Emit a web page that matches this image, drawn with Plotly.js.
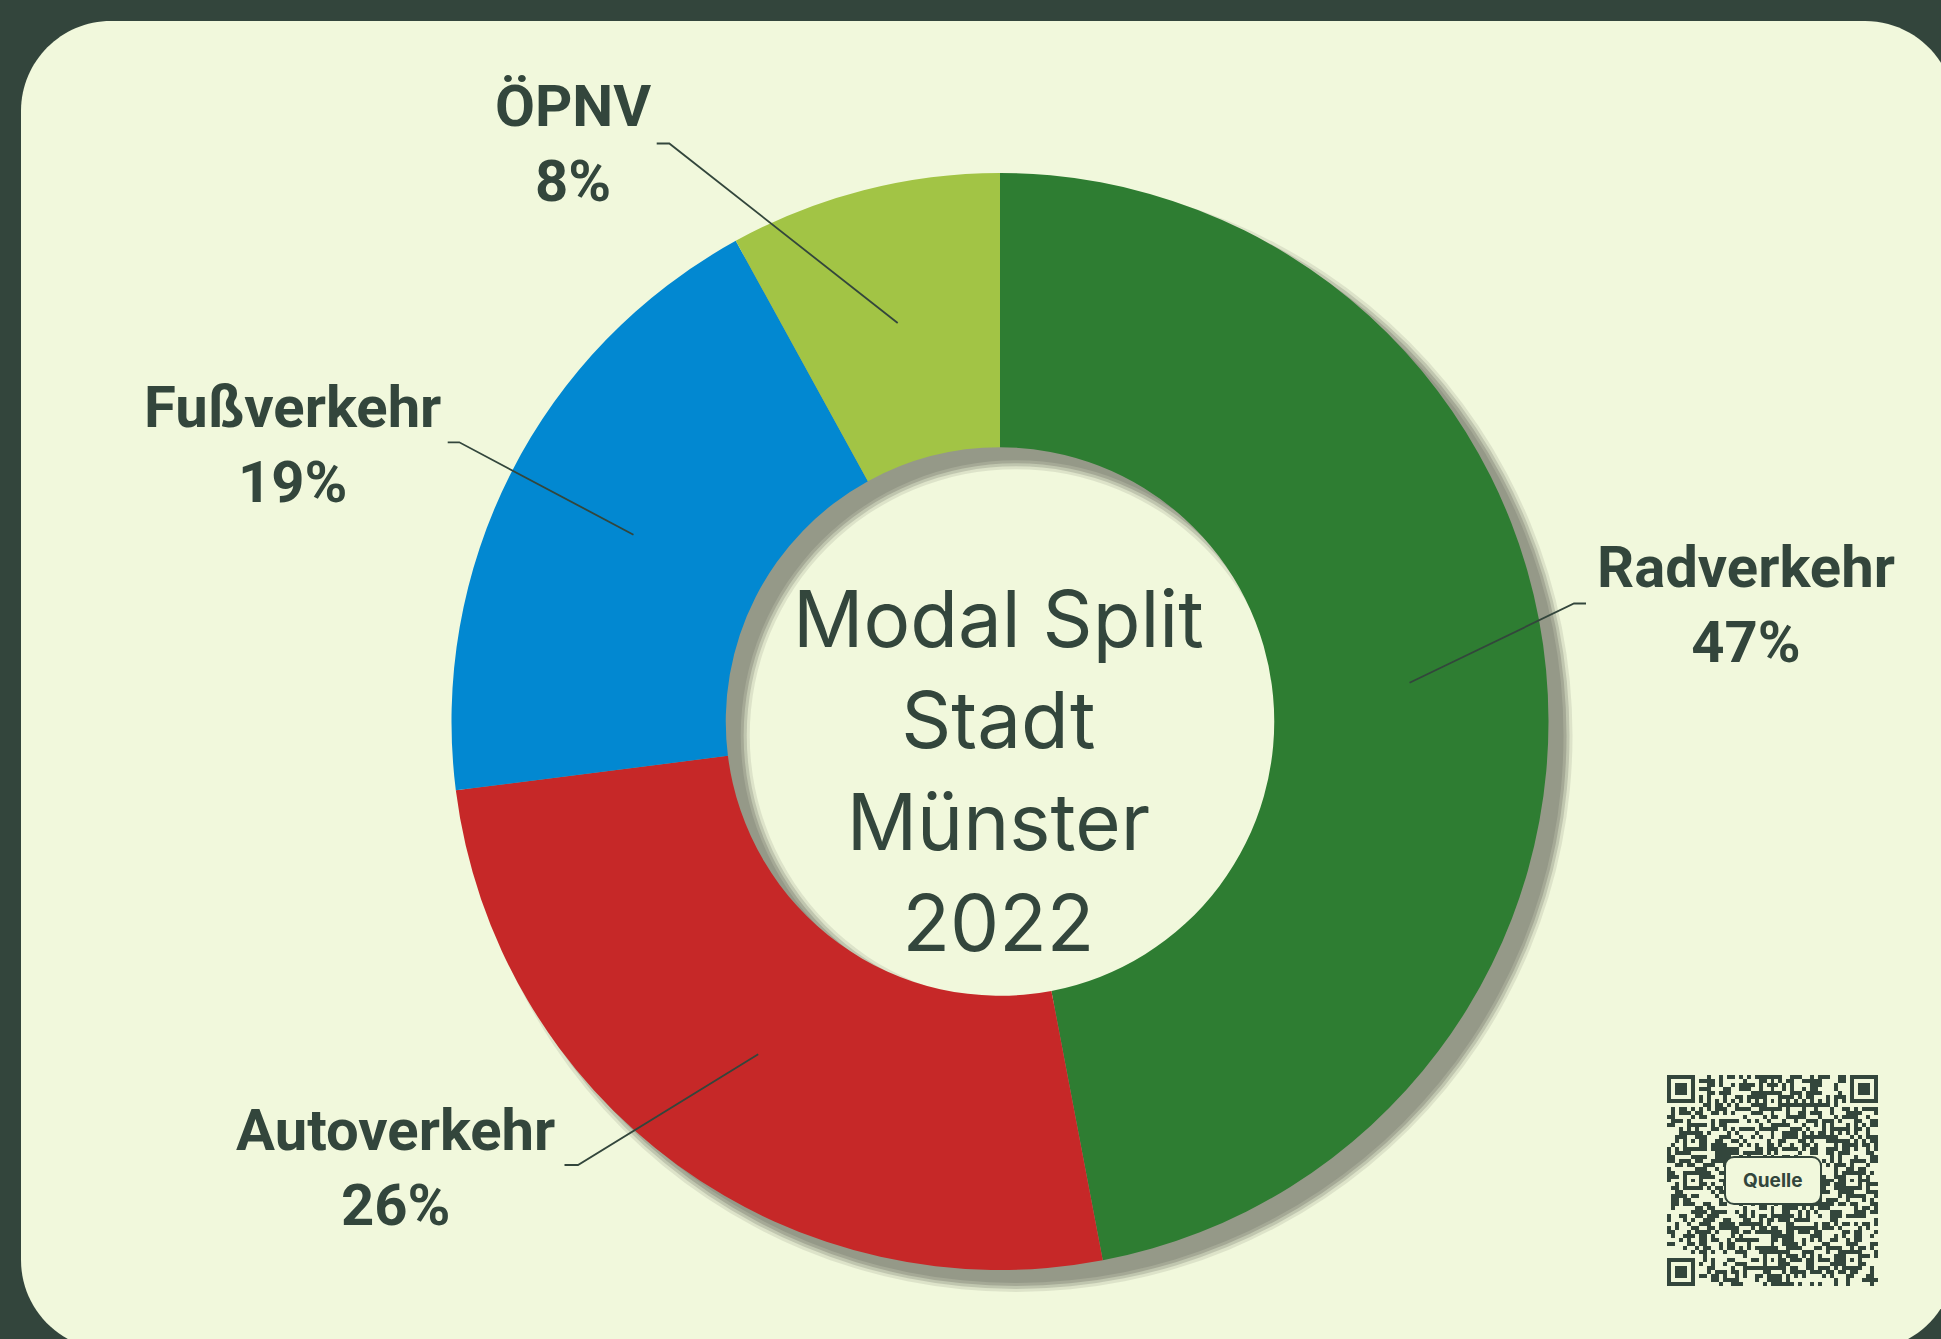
<!DOCTYPE html>
<html><head><meta charset="utf-8">
<script src="https://cdn.plot.ly/plotly-3.0.1.min.js"></script>
<style>html,body{margin:0;padding:0;background:#33453C;}#chart{width:1941px;height:1339px;}</style>
</head><body><div id="chart"></div>
<script>
// ---- data ----
const categories = ['Radverkehr', 'Autoverkehr', 'Fußverkehr', 'ÖPNV'];
const shares = [47, 26, 19, 8];
const sliceColors = ['#2E7D32', '#C62828', '#0288D1', '#A2C445'];
const centerTitle = ['Modal Split', 'Stadt', 'Münster', '2022'];
const sourceLabel = 'Quelle';

// ---- layout helpers (pixels -> paper) ----
const W = 1941, H = 1339;
const px = x => x / W;
const py = y => 1 - y / H;
const P = (x, y) => px(x) + ',' + py(y);
const CX = 1000, CY = 721.5, R = 548.5, HOLE = 0.5;
const TXT = '#33463C';
const CARD = '#F1F8DC';
function dom(cx, cy, r) { return {x: [px(cx - r), px(cx + r)], y: [py(cy + r), py(cy - r)]}; }

// label placement (pixel positions of text centres and leader stubs)
const labelX = [1746, 395, 292.5, 573];
const labelY = [604, 1167, 444, 144];
const stubX0 = [1586, 564.5, 447.7, 656.7];
const stubX1 = [1574, 578, 459.3, 669.3];
const stubY = [603.5, 1165, 442.3, 143.5];

function roundRect(x0, y0, x1, y1, r) {
  const k = 0.5523 * r;
  return 'M' + P(x0 + r, y0) + ' L' + P(x1 - r, y0) +
    ' C' + P(x1 - r + k, y0) + ' ' + P(x1, y0 + r - k) + ' ' + P(x1, y0 + r) +
    ' L' + P(x1, y1 - r) +
    ' C' + P(x1, y1 - r + k) + ' ' + P(x1 - r + k, y1) + ' ' + P(x1 - r, y1) +
    ' L' + P(x0 + r, y1) +
    ' C' + P(x0 + r - k, y1) + ' ' + P(x0, y1 - r + k) + ' ' + P(x0, y1 - r) +
    ' L' + P(x0, y0 + r) +
    ' C' + P(x0, y0 + r - k) + ' ' + P(x0 + r - k, y0) + ' ' + P(x0 + r, y0) + ' Z';
}

// ---- QR-like decoration ----
const N = 53;
function qrModule(r, c) {
  const finders = [[0, 0], [0, N - 7], [N - 7, 0]];
  for (const [fr, fc] of finders) {
    if (r >= fr - 1 && r <= fr + 7 && c >= fc - 1 && c <= fc + 7) {
      const rr = r - fr, cc = c - fc;
      if (rr < 0 || rr > 6 || cc < 0 || cc > 6) return 0;
      if (rr === 0 || rr === 6 || cc === 0 || cc === 6) return 1;
      if (rr >= 2 && rr <= 4 && cc >= 2 && cc <= 4) return 1;
      return 0;
    }
  }
  const al = [6, 26, 46];
  for (const ar of al) for (const ac of al) {
    if ((ar === 6 && ac === 6) || (ar === 6 && ac === 46) || (ar === 46 && ac === 6)) continue;
    if (Math.abs(r - ar) <= 2 && Math.abs(c - ac) <= 2) {
      const d = Math.max(Math.abs(r - ar), Math.abs(c - ac));
      return d === 1 ? 0 : 1;
    }
  }
  if (r === 6) return c % 2 === 0 ? 1 : 0;
  if (c === 6) return r % 2 === 0 ? 1 : 0;
  let h = Math.imul(r + 11, 73856093) ^ Math.imul(c + 7, 19349663);
  h = Math.imul(h ^ (h >>> 13), 1274126177);
  h = h ^ (h >>> 16);
  return h & 1;
}
const qrZ = [];
for (let r = 0; r < N; r++) { const row = []; for (let c = 0; c < N; c++) row.push(qrModule(r, c)); qrZ.push(row); }

// ---- traces ----
const total = shares.reduce((a, b) => a + b, 0);
function shadowPie(grow, color) {
  return {
    type: 'pie', values: [total], labels: ['shadow'], sort: false,
    hole: (R * HOLE - grow) / (R + grow),
    domain: dom(CX + 16, CY + 14, R + grow),
    marker: {colors: [color], line: {width: 0}},
    textinfo: 'none', hoverinfo: 'skip', showlegend: false
  };
}
const traces = [
  {type: 'heatmap', z: qrZ, xaxis: 'x', yaxis: 'y', zmin: 0, zmax: 1,
   colorscale: [[0, CARD], [1, '#33463C']], showscale: false, hoverinfo: 'skip'},
  shadowPie(8, 'rgba(150,154,137,0.22)'),
  shadowPie(5, 'rgba(150,154,137,0.4)'),
  shadowPie(2, 'rgba(150,154,137,0.65)'),
  shadowPie(-1, '#959988'),
  {
    type: 'pie', values: shares, labels: categories, sort: false,
    direction: 'clockwise', rotation: 0, hole: HOLE,
    domain: dom(CX, CY, R),
    marker: {colors: sliceColors, line: {width: 0}},
    textinfo: 'none', hoverinfo: 'none', showlegend: false
  }
];

// ---- leader lines & labels from data ----
const shapes = [
  {type: 'path', xref: 'paper', yref: 'paper', layer: 'below', path: roundRect(21, 21, 1955, 1350, 90),
   fillcolor: CARD, line: {width: 0}}
];
const annotations = [];
let cum = 0;
shares.forEach((v, i) => {
  const mid = (cum + v / 2) / total;
  cum += v;
  const th = mid * 2 * Math.PI;
  const rr = R * (1 + HOLE) / 2;
  const mx = CX + rr * Math.sin(th), my = CY - rr * Math.cos(th);
  shapes.push({type: 'path', xref: 'paper', yref: 'paper', layer: 'above',
    path: 'M' + P(stubX0[i], stubY[i]) + ' L' + P(stubX1[i], stubY[i]) + ' L' + P(mx, my),
    line: {color: TXT, width: 1.8}});
  const pct = Math.round(v / total * 100);
  annotations.push({xref: 'paper', yref: 'paper', x: px(labelX[i]), y: py(labelY[i]),
    xanchor: 'center', yanchor: 'middle', showarrow: false, align: 'center',
    text: '<b>' + categories[i] + '</b><br><b>' + pct + '%</b>',
    font: {family: 'Roboto, sans-serif', size: 58, color: TXT}});
});
annotations.push({xref: 'paper', yref: 'paper', x: px(CX - 2), y: py(770), xanchor: 'center', yanchor: 'middle',
  showarrow: false, align: 'center', text: centerTitle.join('<br>'),
  font: {family: 'Inter, sans-serif', size: 78, color: TXT}});

// Quelle button over QR
shapes.push({type: 'path', xref: 'paper', yref: 'paper', layer: 'above', path: roundRect(1725, 1157, 1821, 1204, 9),
  fillcolor: CARD, line: {color: TXT, width: 2}});
annotations.push({xref: 'paper', yref: 'paper', x: px(1773), y: py(1180.5), xanchor: 'center', yanchor: 'middle',
  showarrow: false, text: '<b>' + sourceLabel + '</b>', font: {family: 'Inter, sans-serif', size: 19, color: TXT}});

const layout = {
  width: W, height: H, autosize: false,
  margin: {l: 0, r: 0, t: 0, b: 0, pad: 0},
  paper_bgcolor: '#33453C', plot_bgcolor: 'rgba(0,0,0,0)',
  showlegend: false,
  xaxis: {domain: [px(1667), px(1878)], range: [-0.5, N - 0.5], visible: false, fixedrange: true},
  yaxis: {domain: [py(1286), py(1075)], range: [N - 0.5, -0.5], visible: false, fixedrange: true},
  shapes: shapes, annotations: annotations
};
Plotly.newPlot('chart', traces, layout, {displayModeBar: false, staticPlot: true});
</script></body></html>
